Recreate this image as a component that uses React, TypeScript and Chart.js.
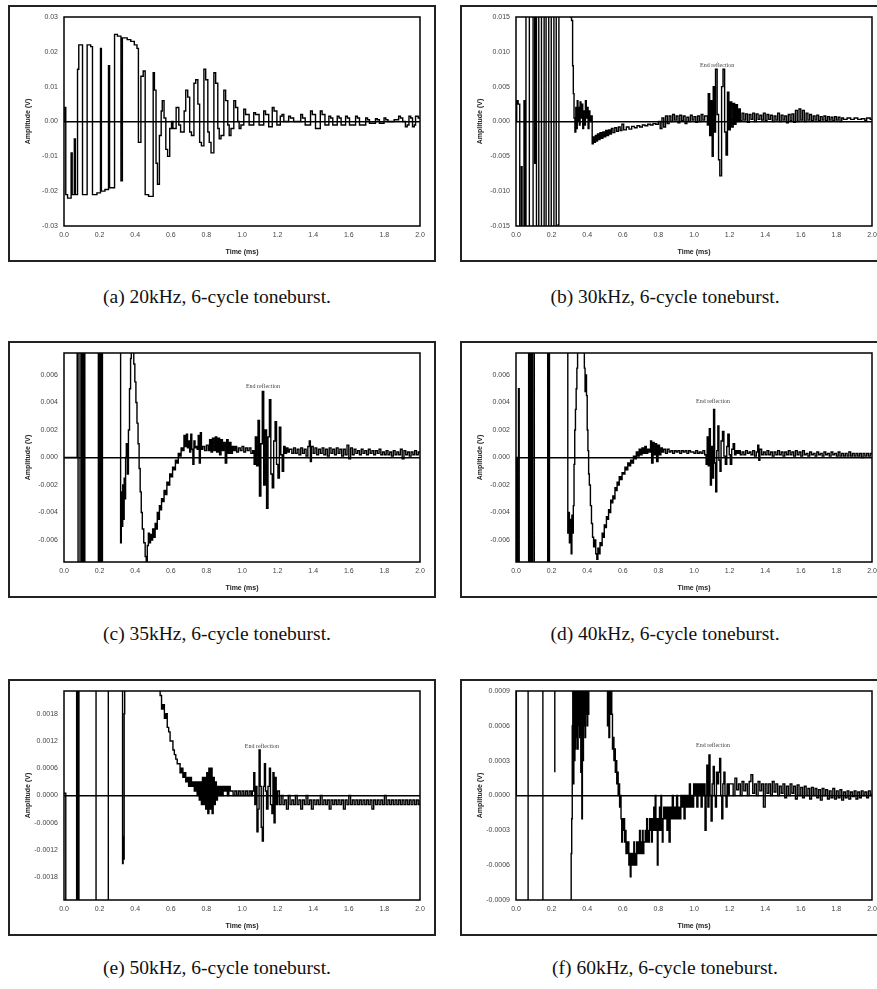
import React, { useEffect, useRef } from "react";
import { Chart, registerables } from "chart.js";

Chart.register(...registerables);

// ---------- tick labels ----------
const X_TICKS = [0, 0.2, 0.4, 0.6, 0.8, 1.0, 1.2, 1.4, 1.6, 1.8, 2.0];
const Y_TICKS_A = [-0.03, -0.02, -0.01, 0, 0.01, 0.02, 0.03];
const Y_TICKS_B = [-0.015, -0.01, -0.005, 0, 0.005, 0.01, 0.015];
const Y_TICKS_C = [-0.006, -0.004, -0.002, 0, 0.002, 0.004, 0.006];
const Y_TICKS_D = [-0.006, -0.004, -0.002, 0, 0.002, 0.004, 0.006];
const Y_TICKS_E = [-0.0018, -0.0012, -0.0006, 0, 0.0006, 0.0012, 0.0018];
const Y_TICKS_F = [-0.0009, -0.0006, -0.0003, 0, 0.0003, 0.0006, 0.0009];

const Y_RANGE_A = [-0.03, 0.03];
const Y_RANGE_B = [-0.015, 0.015];
const Y_RANGE_C = [-0.0076, 0.0076];
const Y_RANGE_D = [-0.0076, 0.0076];
const Y_RANGE_E = [-0.0023, 0.0023];
const Y_RANGE_F = [-0.0009, 0.0009];

const CAPTIONS = [
  "(a) 20kHz, 6-cycle toneburst.",
  "(b) 30kHz, 6-cycle toneburst.",
  "(c) 35kHz, 6-cycle toneburst.",
  "(d) 40kHz, 6-cycle toneburst.",
  "(e) 50kHz, 6-cycle toneburst.",
  "(f) 60kHz, 6-cycle toneburst.",
];
const NOTE_TEXT = "End reflection";
const NOTE_B = [1.13, 0.008];
const NOTE_C = [1.118, 0.00516];
const NOTE_D = [1.107, 0.00407];
const NOTE_E = [1.112, 0.00108];
const NOTE_F = [1.107, 0.00043];

// ---------- waveforms: [time (ms), amplitude (V)], sample-and-hold ----------
const WAVE_A = [
  [0.000, 0.0], [0.005, 0.004], [0.010, -0.021], [0.020, -0.022], [0.040, -0.009], [0.046, -0.021],
  [0.058, -0.005], [0.064, -0.021], [0.076, 0.015], [0.083, 0.022], [0.104, -0.021], [0.130, 0.022],
  [0.150, 0.0215], [0.160, -0.021], [0.185, -0.0205], [0.205, 0.021], [0.210, -0.020], [0.230, -0.0195],
  [0.250, 0.016], [0.256, -0.019], [0.284, 0.025], [0.300, 0.0245], [0.320, -0.017], [0.328, 0.024],
  [0.355, 0.0235], [0.375, 0.023], [0.395, 0.022], [0.410, 0.021], [0.418, -0.006], [0.432, 0.013],
  [0.445, 0.0145], [0.456, -0.021], [0.475, -0.0215], [0.501, 0.014], [0.508, 0.009], [0.517, -0.012],
  [0.525, -0.018], [0.536, -0.004], [0.546, 0.003], [0.552, 0.006], [0.562, 0.001], [0.572, -0.008],
  [0.582, -0.010], [0.594, -0.002], [0.604, 0.0], [0.612, -0.002], [0.630, 0.004], [0.645, -0.001],
  [0.655, -0.003], [0.675, 0.003], [0.684, 0.009], [0.695, 0.007], [0.706, -0.003], [0.716, -0.004],
  [0.730, 0.011], [0.740, 0.012], [0.752, 0.005], [0.762, -0.006], [0.772, -0.007], [0.786, 0.015],
  [0.796, 0.012], [0.808, -0.003], [0.816, -0.006], [0.826, -0.009], [0.842, 0.014], [0.852, 0.011],
  [0.864, -0.002], [0.872, -0.005], [0.882, -0.004], [0.898, 0.009], [0.908, 0.006], [0.920, -0.001],
  [0.928, -0.004], [0.938, -0.002], [0.954, 0.006], [0.964, 0.004], [0.976, 0.0], [0.984, -0.002],
  [0.994, -0.001], [1.010, 0.0035], [1.020, 0.002], [1.040, -0.001], [1.066, 0.0025], [1.076, 0.002],
  [1.096, -0.001], [1.122, 0.003], [1.132, 0.002], [1.150, -0.0015], [1.170, 0.004], [1.180, 0.003],
  [1.196, -0.001], [1.215, 0.0015], [1.225, 0.002], [1.235, 0.0], [1.262, 0.0015], [1.272, 0.001],
  [1.290, 0.0], [1.330, 0.002], [1.340, 0.001], [1.355, -0.001], [1.385, 0.003], [1.395, 0.002],
  [1.413, -0.002], [1.440, 0.003], [1.450, 0.002], [1.466, -0.001], [1.488, 0.0015], [1.498, 0.001],
  [1.510, -0.001], [1.535, 0.0015], [1.545, 0.001], [1.557, -0.001], [1.582, 0.0015], [1.592, 0.001],
  [1.604, -0.001], [1.638, 0.0015], [1.648, 0.001], [1.660, -0.001], [1.695, 0.001], [1.705, 0.0005],
  [1.716, -0.0005], [1.750, 0.0008], [1.760, 0.0005], [1.772, -0.0005], [1.798, 0.001], [1.808, 0.0005],
  [1.820, 0.0], [1.855, 0.0005], [1.880, 0.0015], [1.890, 0.001], [1.903, 0.0], [1.918, -0.0015],
  [1.928, -0.001], [1.938, 0.0015], [1.948, 0.001], [1.958, -0.0015], [1.968, -0.001], [1.975, 0.0015],
  [1.990, 0.001], [2.000, 0.001],
];

const WAVE_B = [
  [0.000, 0.0], [0.004, 0.003], [0.012, 0.0025], [0.021, -0.03], [0.030, -0.0065], [0.034, -0.03],
  [0.045, 0.003], [0.049, -0.03], [0.056, 0.03], [0.075, -0.03], [0.096, 0.03], [0.105, -0.006],
  [0.109, 0.03], [0.115, -0.03], [0.128, 0.03], [0.143, -0.03], [0.158, 0.03], [0.169, -0.03],
  [0.184, 0.03], [0.198, -0.03], [0.213, 0.03], [0.226, -0.03], [0.237, -0.0148], [0.241, 0.03],
  [0.290, 0.0155], [0.305, 0.015], [0.312, 0.0145], [0.318, 0.008], [0.322, 0.004], [0.326, 0.0005],
  [0.331, -0.0015], [0.336, 0.002], [0.340, -0.001], [0.344, 0.003], [0.348, 0.0], [0.352, 0.002],
  [0.356, -0.0005], [0.360, 0.0028], [0.365, 0.0005], [0.370, 0.0025], [0.375, -0.001], [0.380, 0.0015],
  [0.385, -0.0005], [0.390, 0.003], [0.395, 0.0005], [0.400, 0.002], [0.405, -0.001], [0.410, 0.0015],
  [0.415, 0.0], [0.420, 0.0008], [0.428, -0.0032], [0.434, -0.0022], [0.440, -0.003], [0.446, -0.002],
  [0.452, -0.0028], [0.458, -0.0018], [0.465, -0.0026], [0.472, -0.0016], [0.480, -0.0024], [0.488, -0.0015],
  [0.496, -0.0022], [0.504, -0.0013], [0.512, -0.002], [0.520, -0.0012], [0.528, -0.0018], [0.536, -0.001],
  [0.545, -0.0016], [0.555, -0.0009], [0.565, -0.0014], [0.575, -0.0008], [0.585, -0.0013], [0.595, -0.0004],
  [0.605, -0.0012], [0.620, -0.0008], [0.635, -0.0011], [0.650, -0.0007], [0.665, -0.0009], [0.680, -0.0006],
  [0.695, -0.0008], [0.710, -0.0005], [0.725, -0.0006], [0.740, -0.0004], [0.755, -0.0005], [0.770, -0.0003],
  [0.785, -0.0004], [0.800, 0.0], [0.810, -0.001], [0.820, 0.0005], [0.830, -0.0008], [0.840, 0.0008],
  [0.850, -0.0003], [0.860, 0.0008], [0.870, 0.0], [0.880, 0.001], [0.890, 0.0002], [0.900, 0.0008],
  [0.910, -0.0002], [0.920, 0.0009], [0.930, 0.0001], [0.940, 0.0008], [0.950, -0.0003], [0.960, 0.0006],
  [0.970, 0.0], [0.980, 0.0009], [0.990, 0.0002], [1.000, 0.0007], [1.010, -0.0001], [1.020, 0.0008],
  [1.030, 0.0], [1.040, 0.001], [1.050, 0.0002], [1.060, 0.0008], [1.075, -0.0005], [1.080, 0.004],
  [1.088, -0.002], [1.096, 0.003], [1.102, -0.005], [1.108, 0.005], [1.116, -0.0015], [1.121, 0.0075],
  [1.130, 0.001], [1.138, -0.0055], [1.145, -0.0078], [1.155, 0.005], [1.163, 0.0075], [1.172, -0.0015],
  [1.180, -0.0048], [1.188, 0.0042], [1.196, -0.0012], [1.204, 0.0028], [1.212, -0.0008], [1.220, 0.0026],
  [1.228, -0.0004], [1.236, 0.0024], [1.244, 0.0], [1.252, 0.0018], [1.260, 0.0001], [1.270, 0.0012],
  [1.280, 0.0002], [1.290, 0.0011], [1.300, -0.0001], [1.310, 0.001], [1.320, 0.0003], [1.330, 0.0012],
  [1.340, 0.0], [1.350, 0.0011], [1.360, 0.0003], [1.370, 0.0009], [1.380, 0.0002], [1.390, 0.0012],
  [1.400, 0.0001], [1.410, 0.001], [1.420, 0.0003], [1.430, 0.0009], [1.440, 0.0], [1.450, 0.0008],
  [1.460, 0.0002], [1.470, 0.0012], [1.480, 0.0], [1.490, 0.0009], [1.500, 0.0002], [1.510, 0.0008],
  [1.520, -0.0002], [1.530, 0.001], [1.540, 0.0001], [1.550, 0.0011], [1.560, -0.0001], [1.570, 0.0016],
  [1.580, 0.0], [1.590, 0.0018], [1.600, 0.0002], [1.610, 0.0016], [1.620, 0.0], [1.630, 0.0012],
  [1.640, 0.0002], [1.650, 0.001], [1.660, 0.0001], [1.670, 0.0008], [1.680, 0.0002], [1.690, 0.0009],
  [1.700, 0.0001], [1.710, 0.0007], [1.720, 0.0002], [1.730, 0.0008], [1.740, 0.0001], [1.750, 0.0007],
  [1.760, 0.0002], [1.770, 0.0006], [1.780, 0.0001], [1.790, 0.0007], [1.800, 0.0002], [1.810, 0.0006],
  [1.820, 0.0], [1.830, 0.0005], [1.840, 0.0003], [1.860, 0.0005], [1.880, 0.0003], [1.900, 0.0005],
  [1.920, 0.0003], [1.940, 0.0004], [1.960, 0.0001], [1.970, 0.0005], [1.990, 0.0003], [2.000, 0.0003],
];

const WAVE_C = [
  [0.000, 0.0], [0.074, 0.03], [0.079, -0.03], [0.090, 0.03], [0.099, -0.03], [0.103, 0.03],
  [0.107, -0.004], [0.109, -0.03], [0.113, 0.03], [0.117, -0.03], [0.193, 0.03], [0.199, -0.03],
  [0.205, 0.03], [0.211, -0.03], [0.216, 0.03], [0.318, -0.0062], [0.322, -0.0025], [0.326, -0.005],
  [0.330, -0.002], [0.334, -0.0045], [0.338, -0.0015], [0.342, -0.003], [0.346, 0.0], [0.350, 0.001],
  [0.356, -0.0012], [0.362, 0.002], [0.368, 0.005], [0.374, 0.0072], [0.378, 0.03], [0.392, 0.0068],
  [0.398, 0.0055], [0.404, 0.004], [0.410, 0.0025], [0.416, 0.001], [0.422, -0.0008], [0.428, -0.0025],
  [0.434, -0.004], [0.440, -0.0052], [0.448, -0.0062], [0.456, -0.0072], [0.462, -0.0078], [0.468, -0.0064],
  [0.474, -0.0055], [0.480, -0.0062], [0.486, -0.0056], [0.492, -0.006], [0.498, -0.0052], [0.505, -0.0058],
  [0.512, -0.0048], [0.518, -0.0052], [0.524, -0.004], [0.530, -0.0045], [0.536, -0.0035], [0.542, -0.0038],
  [0.548, -0.003], [0.555, -0.0032], [0.562, -0.0024], [0.570, -0.0027], [0.578, -0.0018], [0.586, -0.002],
  [0.594, -0.0012], [0.602, -0.0014], [0.610, -0.0007], [0.618, -0.0009], [0.626, -0.0002], [0.634, -0.0004],
  [0.642, 0.0003], [0.650, 0.0001], [0.658, 0.0007], [0.666, 0.0005], [0.674, 0.0016], [0.680, 0.0008],
  [0.688, 0.0017], [0.694, 0.0007], [0.700, 0.0012], [0.706, 0.0004], [0.712, 0.0017], [0.718, 0.0006],
  [0.724, -0.0005], [0.730, 0.0012], [0.736, 0.0007], [0.742, 0.0008], [0.748, 0.0006], [0.754, 0.0016],
  [0.760, -0.0004], [0.766, 0.0018], [0.772, 0.0006], [0.780, 0.0008], [0.790, 0.0005], [0.800, 0.0009],
  [0.810, 0.0005], [0.818, 0.0013], [0.826, 0.0004], [0.834, 0.0014], [0.842, 0.0005], [0.850, 0.0015],
  [0.858, 0.0004], [0.866, 0.0014], [0.874, 0.0002], [0.882, 0.0013], [0.890, 0.0005], [0.898, 0.0011],
  [0.906, -0.0004], [0.914, 0.0013], [0.922, 0.0003], [0.930, 0.0011], [0.938, 0.0003], [0.946, 0.0008],
  [0.954, 0.0005], [0.962, 0.0008], [0.970, 0.0004], [0.980, 0.0007], [0.990, 0.0005], [1.000, 0.0008],
  [1.010, 0.0004], [1.020, 0.0007], [1.030, 0.0005], [1.040, 0.0007], [1.050, 0.0003], [1.060, 0.0005],
  [1.068, -0.0005], [1.075, 0.0015], [1.082, -0.0006], [1.090, 0.0027], [1.098, -0.0028], [1.106, 0.001],
  [1.114, 0.0048], [1.122, -0.002], [1.130, 0.002], [1.138, -0.0037], [1.146, 0.0015], [1.154, 0.0042],
  [1.162, -0.0012], [1.170, -0.0022], [1.178, 0.0012], [1.186, 0.0026], [1.194, -0.0005], [1.202, -0.0015],
  [1.210, 0.0022], [1.218, 0.0002], [1.226, -0.001], [1.234, 0.0008], [1.242, 0.0003], [1.250, 0.0007],
  [1.258, 0.0004], [1.266, 0.0006], [1.280, 0.0003], [1.290, 0.0007], [1.300, 0.0003], [1.310, 0.0006],
  [1.320, 0.0002], [1.330, 0.0007], [1.340, 0.0003], [1.350, 0.0006], [1.360, 0.0001], [1.370, 0.0008],
  [1.378, 0.0012], [1.384, -0.0003], [1.390, 0.0008], [1.400, 0.0003], [1.410, 0.0007], [1.420, 0.0002],
  [1.430, 0.0006], [1.440, 0.0003], [1.450, 0.0007], [1.460, 0.0002], [1.470, 0.0006], [1.480, 0.0001],
  [1.490, 0.0007], [1.500, 0.0003], [1.510, 0.0006], [1.520, 0.0002], [1.530, 0.0007], [1.540, 0.0003],
  [1.550, 0.0006], [1.560, 0.0001], [1.570, 0.0006], [1.580, 0.0002], [1.590, 0.0009], [1.600, -0.0001],
  [1.610, 0.0007], [1.620, 0.0002], [1.630, 0.0006], [1.640, 0.0003], [1.650, 0.0005], [1.660, 0.0002],
  [1.670, 0.0006], [1.680, 0.0003], [1.690, 0.0005], [1.700, 0.0002], [1.710, 0.0006], [1.720, 0.0003],
  [1.730, 0.0005], [1.740, 0.0002], [1.750, 0.0005], [1.760, 0.0003], [1.770, 0.0006], [1.780, 0.0002],
  [1.790, 0.0004], [1.800, 0.0002], [1.810, 0.0005], [1.820, 0.0002], [1.830, 0.0004], [1.840, 0.0001],
  [1.850, 0.0005], [1.860, 0.0002], [1.870, 0.0004], [1.880, 0.0002], [1.890, 0.0006], [1.900, -0.0001],
  [1.910, 0.0005], [1.920, 0.0002], [1.930, 0.0004], [1.940, 0.0001], [1.950, 0.0004], [1.960, 0.0002],
  [1.970, 0.0005], [1.980, 0.0002], [1.990, 0.0004], [2.000, 0.0003],
];

const WAVE_D = [
  [0.000, 0.0], [0.002, -0.03], [0.010, 0.0], [0.014, 0.005], [0.018, -0.03], [0.071, 0.03],
  [0.076, -0.03], [0.082, 0.03], [0.088, -0.03], [0.094, 0.03], [0.103, -0.03], [0.178, 0.03],
  [0.183, -0.03], [0.188, 0.03], [0.291, -0.0055], [0.296, -0.004], [0.300, -0.0062], [0.305, -0.0045],
  [0.310, -0.007], [0.314, -0.0042], [0.318, -0.0055], [0.322, -0.0035], [0.326, -0.0005], [0.330, 0.002],
  [0.334, 0.0035], [0.338, 0.005], [0.342, 0.0065], [0.346, 0.03], [0.384, 0.0065], [0.388, 0.0048],
  [0.392, 0.006], [0.396, 0.0045], [0.400, 0.002], [0.404, 0.0005], [0.408, -0.0012], [0.412, -0.002],
  [0.418, -0.0035], [0.424, -0.0048], [0.430, -0.0058], [0.436, -0.0065], [0.442, -0.006], [0.448, -0.007],
  [0.454, -0.0074], [0.460, -0.0066], [0.466, -0.007], [0.472, -0.0062], [0.478, -0.0064], [0.484, -0.0055],
  [0.490, -0.0058], [0.496, -0.0049], [0.502, -0.0051], [0.508, -0.0043], [0.514, -0.0045], [0.520, -0.0038],
  [0.526, -0.004], [0.532, -0.0031], [0.538, -0.0033], [0.544, -0.0028], [0.550, -0.003], [0.556, -0.0022],
  [0.562, -0.0024], [0.568, -0.0018], [0.574, -0.002], [0.580, -0.0014], [0.588, -0.0016], [0.596, -0.0011],
  [0.604, -0.0012], [0.612, -0.0007], [0.620, -0.0009], [0.628, -0.0004], [0.636, -0.0006], [0.644, -0.0002],
  [0.652, -0.0004], [0.660, 0.0001], [0.668, -0.0001], [0.676, 0.0004], [0.684, 0.0001], [0.692, 0.0006],
  [0.700, 0.0002], [0.708, 0.0007], [0.716, 0.0003], [0.724, 0.0008], [0.732, 0.0003], [0.740, 0.0006],
  [0.748, 0.0004], [0.756, 0.0012], [0.762, -0.0004], [0.770, 0.0011], [0.776, 0.0002], [0.784, 0.001],
  [0.790, -0.0003], [0.798, 0.0009], [0.806, 0.0002], [0.814, 0.0007], [0.822, 0.0004], [0.830, 0.0006],
  [0.840, 0.0003], [0.850, 0.0006], [0.860, 0.0004], [0.870, 0.0005], [0.880, 0.0003], [0.890, 0.0005],
  [0.900, 0.0004], [0.910, 0.0005], [0.920, 0.0003], [0.930, 0.0005], [0.940, 0.0004], [0.950, 0.0005],
  [0.960, 0.0003], [0.970, 0.0005], [0.980, 0.0004], [0.990, 0.0004], [1.000, 0.0003], [1.010, 0.0005],
  [1.020, 0.0003], [1.030, 0.0004], [1.040, 0.0003], [1.050, 0.0005], [1.060, 0.0002], [1.068, -0.0005],
  [1.074, 0.0015], [1.080, -0.0006], [1.086, 0.0021], [1.092, -0.002], [1.098, 0.0008], [1.104, -0.0015],
  [1.110, 0.0035], [1.116, -0.0004], [1.122, -0.0025], [1.128, 0.0005], [1.134, 0.0023], [1.140, -0.0002],
  [1.146, -0.001], [1.152, 0.0012], [1.160, 0.0019], [1.168, 0.0001], [1.176, -0.0005], [1.184, 0.0008],
  [1.190, 0.0017], [1.198, 0.0002], [1.204, -0.0005], [1.212, 0.0006], [1.220, 0.001], [1.228, 0.0002],
  [1.236, 0.0005], [1.244, 0.0003], [1.252, 0.0005], [1.260, 0.0002], [1.270, 0.0004], [1.280, 0.0002],
  [1.290, 0.0005], [1.300, 0.0003], [1.310, 0.0004], [1.320, 0.0002], [1.330, 0.0005], [1.340, 0.0001],
  [1.350, 0.0004], [1.358, 0.0009], [1.364, -0.0002], [1.370, 0.0006], [1.380, 0.0002], [1.390, 0.0004],
  [1.400, 0.0002], [1.410, 0.0005], [1.420, 0.0002], [1.430, 0.0004], [1.440, 0.0001], [1.450, 0.0004],
  [1.460, 0.0002], [1.470, 0.0005], [1.480, 0.0002], [1.490, 0.0004], [1.500, 0.0001], [1.510, 0.0004],
  [1.520, 0.0002], [1.530, 0.0005], [1.540, 0.0002], [1.550, 0.0004], [1.560, 0.0001], [1.570, 0.0005],
  [1.580, 0.0002], [1.590, 0.0004], [1.600, 0.0001], [1.610, 0.0005], [1.620, 0.0002], [1.630, 0.0003],
  [1.640, 0.0001], [1.650, 0.0004], [1.660, 0.0002], [1.670, 0.0003], [1.680, 0.0001], [1.690, 0.0004],
  [1.700, 0.0002], [1.710, 0.0003], [1.720, 0.0001], [1.730, 0.0004], [1.740, 0.0002], [1.750, 0.0003],
  [1.760, 0.0001], [1.770, 0.0004], [1.780, 0.0002], [1.790, 0.0003], [1.800, 0.0001], [1.810, 0.0004],
  [1.820, 0.0001], [1.830, 0.0003], [1.840, 0.0001], [1.850, 0.0003], [1.860, 0.0001], [1.870, 0.0004],
  [1.880, 0.0001], [1.890, 0.0003], [1.900, 0.0001], [1.910, 0.0003], [1.920, 0.0001], [1.930, 0.0003],
  [1.940, 0.0], [1.950, 0.0003], [1.960, 0.0001], [1.970, 0.0003], [1.980, 0.0001], [1.990, 0.0003],
  [2.000, 0.0002],
];

const WAVE_E = [
  [0.000, 0.00005], [0.010, -0.01], [0.071, 0.01], [0.078, -0.01], [0.084, 0.01], [0.180, -0.01],
  [0.249, 0.01], [0.329, -0.0015], [0.332, -0.0009], [0.335, -0.0014], [0.338, 0.0018], [0.341, 0.01],
  [0.540, 0.0022], [0.548, 0.0019], [0.556, 0.002], [0.564, 0.0017], [0.572, 0.0018], [0.580, 0.0015],
  [0.588, 0.0014], [0.596, 0.0012], [0.604, 0.0012], [0.612, 0.001], [0.620, 0.0009], [0.628, 0.0008],
  [0.636, 0.0007], [0.644, 0.0007], [0.652, 0.0005], [0.660, 0.0006], [0.668, 0.0004], [0.676, 0.0005],
  [0.684, 0.0003], [0.692, 0.0004], [0.700, 0.0002], [0.708, 0.0004], [0.716, 0.0002], [0.724, 0.0003],
  [0.732, 0.0001], [0.740, 0.0003], [0.748, 0.0], [0.754, 0.0003], [0.760, -0.0001], [0.766, 0.0003],
  [0.772, -0.0002], [0.778, 0.0004], [0.784, -0.0002], [0.790, 0.0004], [0.796, -0.0003], [0.802, 0.0005],
  [0.808, -0.0004], [0.814, 0.0006], [0.820, -0.0003], [0.826, 0.0006], [0.832, -0.0004], [0.838, 0.0004],
  [0.844, -0.0002], [0.850, 0.0003], [0.856, -0.0001], [0.862, 0.0002], [0.870, 0.0], [0.878, 0.0002],
  [0.886, 0.0], [0.894, 0.0002], [0.902, 0.0001], [0.910, 0.0002], [0.918, 0.0], [0.926, 0.0002],
  [0.934, 0.0001], [0.942, 0.0001], [0.950, 0.0], [0.960, 0.0001], [0.970, 0.0], [0.980, 0.0001],
  [0.990, 0.0], [1.000, 0.0001], [1.010, 0.0], [1.020, 0.0001], [1.030, 0.0], [1.040, 0.0001],
  [1.050, 0.0], [1.058, 0.0001], [1.066, 0.0005], [1.072, -0.0002], [1.078, 0.0002], [1.084, -0.0008],
  [1.090, -0.0003], [1.096, 0.001], [1.102, 0.0002], [1.108, -0.0007], [1.114, -0.001], [1.120, 0.0002],
  [1.126, 0.0007], [1.132, 0.0001], [1.138, -0.0003], [1.146, 0.0002], [1.154, 0.0006], [1.160, -0.0002],
  [1.168, -0.0004], [1.174, 0.0005], [1.180, -0.0006], [1.186, 0.0004], [1.192, -0.0002], [1.200, 0.0001],
  [1.210, -0.0002], [1.220, 0.0], [1.230, -0.0002], [1.240, -0.0001], [1.250, -0.0003], [1.260, 0.0],
  [1.270, -0.0002], [1.280, -0.0001], [1.290, -0.0002], [1.300, 0.0], [1.310, -0.0002], [1.320, -0.0001],
  [1.330, -0.0003], [1.340, -0.0001], [1.350, -0.0002], [1.360, 0.0], [1.370, -0.0002], [1.380, -0.0001],
  [1.390, -0.0003], [1.400, -0.0001], [1.410, -0.0002], [1.420, -0.0001], [1.430, -0.0002], [1.440, 0.0],
  [1.450, -0.0002], [1.460, -0.0001], [1.470, -0.0002], [1.480, -0.0001], [1.490, -0.0003], [1.500, -0.0001],
  [1.510, -0.0002], [1.520, -0.0001], [1.530, -0.0002], [1.540, -0.0001], [1.550, -0.0002], [1.560, -0.0001],
  [1.570, -0.0003], [1.580, -0.0001], [1.590, -0.0002], [1.600, 0.0], [1.610, -0.0002], [1.620, -0.0001],
  [1.630, -0.0002], [1.640, -0.0001], [1.650, -0.0002], [1.660, -0.0001], [1.670, -0.0002], [1.680, -0.0001],
  [1.690, -0.0002], [1.700, -0.0001], [1.710, -0.0002], [1.720, -0.0001], [1.730, -0.0003], [1.740, -0.0001],
  [1.750, -0.0002], [1.760, -0.0001], [1.770, -0.0002], [1.780, -0.0001], [1.790, -0.0002], [1.800, 0.0],
  [1.810, -0.0002], [1.820, -0.0001], [1.830, -0.0002], [1.840, -0.0001], [1.850, -0.0002], [1.860, -0.0001],
  [1.870, -0.0002], [1.880, -0.0001], [1.890, -0.0002], [1.900, -0.0001], [1.910, -0.0002], [1.920, -0.0001],
  [1.930, -0.0002], [1.940, -0.0001], [1.950, -0.0002], [1.960, -0.0001], [1.970, -0.0002], [1.980, -0.0001],
  [1.990, -0.0002], [2.000, -0.0001],
];

const WAVE_F = [
  [0.000, 0.0], [0.002, 0.003], [0.068, -0.003], [0.151, 0.003], [0.218, 0.0002], [0.222, null],
  [0.305, -0.003], [0.310, -0.0005], [0.313, -0.0002], [0.316, 0.0006], [0.319, 0.003], [0.322, 0.0001],
  [0.325, 0.003], [0.328, 0.0003], [0.331, 0.003], [0.334, 0.0004], [0.337, 0.003], [0.340, 0.0005],
  [0.343, 0.003], [0.346, 0.0004], [0.349, 0.003], [0.352, 0.0006], [0.355, 0.003], [0.358, 0.0005],
  [0.361, 0.003], [0.364, 0.0002], [0.367, 0.003], [0.370, -0.0002], [0.373, 0.003], [0.376, 0.0003],
  [0.379, 0.003], [0.382, 0.0006], [0.385, 0.003], [0.388, 0.0005], [0.391, 0.003], [0.394, 0.0007],
  [0.397, 0.003], [0.400, 0.0006], [0.403, 0.003], [0.406, 0.0007], [0.409, 0.003], [0.514, 0.0006],
  [0.518, 0.003], [0.522, 0.0005], [0.526, 0.003], [0.530, 0.0007], [0.534, 0.0009], [0.538, 0.0007],
  [0.542, 0.0004], [0.546, 0.0005], [0.550, 0.0003], [0.554, 0.0004], [0.558, 0.0002], [0.562, 0.0003],
  [0.566, 0.0001], [0.570, 0.0002], [0.574, 0.0], [0.578, 0.0001], [0.582, -0.0001], [0.586, 0.0],
  [0.590, -0.0002], [0.594, -0.0004], [0.598, -0.0002], [0.602, -0.0003], [0.606, -0.0002], [0.610, -0.0004],
  [0.614, -0.0003], [0.618, -0.0005], [0.622, -0.0004], [0.626, -0.0005], [0.630, -0.0004], [0.634, -0.0006],
  [0.638, -0.0005], [0.642, -0.0007], [0.646, -0.0005], [0.650, -0.0006], [0.654, -0.0005], [0.658, -0.0006],
  [0.662, -0.0004], [0.666, -0.0006], [0.670, -0.0005], [0.674, -0.0006], [0.678, -0.0004], [0.682, -0.0005],
  [0.686, -0.0004], [0.690, -0.0005], [0.694, -0.0003], [0.698, -0.0005], [0.702, -0.0004], [0.706, -0.0005],
  [0.710, -0.0003], [0.714, -0.0005], [0.718, -0.0004], [0.722, -0.0004], [0.726, -0.0003], [0.730, -0.0004],
  [0.734, -0.0002], [0.738, -0.0004], [0.742, -0.0003], [0.746, -0.0004], [0.750, -0.0002], [0.754, -0.0003],
  [0.758, -0.0002], [0.762, -0.0004], [0.766, -0.0002], [0.770, -0.0003], [0.774, -0.0001], [0.778, -0.0003],
  [0.782, 0.0], [0.786, -0.0002], [0.790, -0.0003], [0.794, -0.0006], [0.798, -0.0002], [0.802, -0.0003],
  [0.806, -0.0001], [0.810, -0.0003], [0.814, 0.0], [0.818, -0.0002], [0.822, -0.0004], [0.826, -0.0002],
  [0.830, -0.0001], [0.836, -0.0002], [0.842, -0.0001], [0.848, -0.0003], [0.854, -0.0001], [0.860, -0.0004],
  [0.866, -0.0001], [0.872, -0.0002], [0.878, 0.0], [0.884, -0.0002], [0.890, -0.0001], [0.896, -0.0002],
  [0.902, 0.0], [0.908, -0.0002], [0.914, -0.0001], [0.920, -0.0002], [0.926, 0.0], [0.932, -0.0001],
  [0.938, 0.0], [0.944, -0.0002], [0.950, 0.0], [0.956, -0.0001], [0.962, 0.0], [0.968, -0.0001],
  [0.974, 0.0001], [0.980, -0.0001], [0.986, 0.0], [0.992, -0.0001], [0.998, 0.0001], [1.004, 0.0],
  [1.010, 0.0001], [1.016, -0.0001], [1.022, 0.0001], [1.028, 0.0], [1.034, 0.0001], [1.040, -0.0001],
  [1.046, 0.0001], [1.052, 0.0], [1.058, 0.0001], [1.062, -0.0003], [1.068, 0.0], [1.072, 0.00026],
  [1.078, -0.0001], [1.084, 0.00035], [1.090, 0.0], [1.096, -0.00022], [1.102, 0.0001], [1.108, 0.00025],
  [1.114, 0.0], [1.120, -0.0001], [1.126, 0.0002], [1.132, 0.0001], [1.138, 0.0002], [1.144, 0.00032],
  [1.150, 0.0], [1.156, -0.0002], [1.162, 0.0001], [1.168, 0.0002], [1.174, 0.0], [1.180, -0.0001],
  [1.186, 0.0001], [1.192, 0.0], [1.198, 0.0001], [1.210, 0.0001], [1.220, 0.0], [1.230, 0.00015],
  [1.240, 0.00005], [1.250, 0.0001], [1.260, 0.0], [1.270, 0.00012], [1.280, 0.00004], [1.290, 0.0001],
  [1.300, 0.0], [1.310, 0.00012], [1.320, 0.00018], [1.330, 0.00002], [1.340, 0.0001], [1.350, 0.0],
  [1.360, 0.00012], [1.370, 0.00004], [1.380, 0.0001], [1.390, -0.0001], [1.400, 0.0001], [1.410, 0.00002],
  [1.420, 0.0001], [1.430, 0.0], [1.440, 0.00012], [1.450, 0.00003], [1.460, 0.0001], [1.470, 0.0],
  [1.480, 0.00008], [1.490, 0.00002], [1.500, 0.0001], [1.510, -0.00002], [1.520, 0.00008], [1.530, 0.0],
  [1.540, 0.0001], [1.550, 0.00002], [1.560, 0.00008], [1.570, -0.00003], [1.580, 0.00009], [1.590, 0.0],
  [1.600, 0.00007], [1.610, -0.00002], [1.620, 0.00008], [1.630, 0.0], [1.640, 0.00006], [1.650, -0.00003],
  [1.660, 0.00007], [1.670, 0.0], [1.680, 0.00006], [1.690, -0.00002], [1.700, 0.00005], [1.710, -0.00004],
  [1.720, 0.00006], [1.730, 0.0], [1.740, 0.00005], [1.750, -0.00003], [1.760, 0.00004], [1.770, -0.00002],
  [1.780, 0.00006], [1.790, -0.00003], [1.800, 0.00004], [1.810, -0.00002], [1.820, 0.00005], [1.830, -0.00004],
  [1.840, 0.00003], [1.850, -0.00002], [1.860, 0.00004], [1.870, -0.00003], [1.880, 0.00003], [1.890, -0.00001],
  [1.900, 0.00004], [1.910, -0.00003], [1.920, 0.00003], [1.930, -0.00002], [1.940, 0.00004], [1.950, 0.0],
  [1.960, 0.00003], [1.970, -0.00002], [1.980, 0.00004], [1.990, 0.0], [2.000, 0.00002],
];

// ---------- panel assembly ----------
const PANELS = [
  { wave: WAVE_A, range: Y_RANGE_A, ticks: Y_TICKS_A, digits: 2, note: null, caption: CAPTIONS[0] },
  { wave: WAVE_B, range: Y_RANGE_B, ticks: Y_TICKS_B, digits: 3, note: NOTE_B, caption: CAPTIONS[1] },
  { wave: WAVE_C, range: Y_RANGE_C, ticks: Y_TICKS_C, digits: 3, note: NOTE_C, caption: CAPTIONS[2] },
  { wave: WAVE_D, range: Y_RANGE_D, ticks: Y_TICKS_D, digits: 3, note: NOTE_D, caption: CAPTIONS[3] },
  { wave: WAVE_E, range: Y_RANGE_E, ticks: Y_TICKS_E, digits: 4, note: NOTE_E, caption: CAPTIONS[4] },
  { wave: WAVE_F, range: Y_RANGE_F, ticks: Y_TICKS_F, digits: 4, note: NOTE_F, caption: CAPTIONS[5] },
];

const BOX = [
  { left: 8, top: 5 },
  { left: 460, top: 5 },
  { left: 8, top: 341 },
  { left: 460, top: 341 },
  { left: 8, top: 679 },
  { left: 460, top: 679 },
];
const CAP_POS = [
  { cx: 217, cy: 297 },
  { cx: 665, cy: 297 },
  { cx: 217, cy: 634 },
  { cx: 665, cy: 634 },
  { cx: 217, cy: 968 },
  { cx: 665, cy: 968 },
];

const CW = 428;
const CH = 257;
const SANS = "'Liberation Sans', Arial, sans-serif";
const SERIF = "'Liberation Serif', 'Times New Roman', serif";

const framePlugin = {
  id: "frame",
  beforeDraw(chart: any) {
    const { ctx, width, height } = chart;
    ctx.save();
    ctx.fillStyle = "#fff";
    ctx.fillRect(0, 0, width, height);
    ctx.strokeStyle = "#222";
    ctx.lineWidth = 2;
    ctx.strokeRect(1, 1, width - 2, height - 2);
    ctx.restore();
  },
  afterDraw(chart: any, _args: any, opts: any) {
    const { ctx, chartArea: a } = chart;
    ctx.save();
    ctx.strokeStyle = "#000";
    ctx.lineWidth = 1.5;
    ctx.strokeRect(a.left, a.top, a.right - a.left, a.bottom - a.top);
    if (opts && opts.note) {
      const x = chart.scales.x.getPixelForValue(opts.note[0]);
      const y = chart.scales.y.getPixelForValue(opts.note[1]);
      ctx.font = `6px ${SERIF}`;
      ctx.fillStyle = "#444";
      ctx.textAlign = "center";
      ctx.textBaseline = "middle";
      ctx.fillText(NOTE_TEXT, x, y);
    }
    ctx.restore();
  },
};

function Panel({ idx }: { idx: number }) {
  const ref = useRef<HTMLCanvasElement | null>(null);
  const p = PANELS[idx];
  const box = BOX[idx];
  useEffect(() => {
    if (!ref.current) return;
    const chart = new Chart(ref.current, {
      type: "line",
      data: {
        datasets: [
          {
            data: p.wave.map(([x, y]) => ({ x, y })),
            borderColor: "#000",
            borderWidth: 1.4,
            stepped: true,
            pointRadius: 0,
            fill: false,
            spanGaps: false,
          },
        ],
      },
      options: {
        responsive: false,
        animation: false,
        devicePixelRatio: 1,
        layout: { padding: { left: 0, top: 12, right: 16, bottom: 6 } },
        plugins: {
          legend: { display: false },
          tooltip: { enabled: false },
          frame: { note: p.note },
        } as any,
        scales: {
          x: {
            type: "linear",
            min: 0,
            max: 2,
            afterBuildTicks: (s: any) => {
              s.ticks = X_TICKS.map((v) => ({ value: v }));
            },
            afterFit: (s: any) => {
              s.height = 30;
            },
            grid: { display: false, drawTicks: false },
            border: { display: false },
            ticks: {
              padding: 5,
              autoSkip: false,
              maxRotation: 0,
              color: "#444",
              font: { family: SANS, size: 7 },
              callback: (v: any) => Number(v).toFixed(1),
            },
            title: {
              display: true,
              text: "Time (ms)",
              color: "#222",
              font: { family: SANS, size: 7, weight: "bold" },
              padding: 0,
            },
          },
          y: {
            type: "linear",
            min: p.range[0],
            max: p.range[1],
            afterBuildTicks: (s: any) => {
              s.ticks = p.ticks.map((v) => ({ value: v }));
            },
            afterFit: (s: any) => {
              s.width = 56;
            },
            grid: {
              drawTicks: false,
              lineWidth: 1.5,
              color: (c: any) => (c.tick && c.tick.value === 0 ? "#000" : "rgba(0,0,0,0)"),
            },
            border: { display: false },
            ticks: {
              padding: 6,
              color: "#444",
              font: { family: SANS, size: 7 },
              callback: (v: any) => Number(v).toFixed(p.digits),
            },
            title: {
              display: true,
              text: "Amplitude (V)",
              color: "#222",
              font: { family: SANS, size: 7, weight: "bold" },
              padding: { top: 16, bottom: 0 },
            },
          },
        },
      } as any,
      plugins: [framePlugin as any],
    });
    return () => chart.destroy();
  }, []);
  return (
    <canvas
      ref={ref}
      width={CW}
      height={CH}
      style={{ position: "absolute", left: box.left, top: box.top, width: CW, height: CH }}
    />
  );
}

export default function App() {
  return (
    <div
      style={{
        position: "fixed",
        left: 0,
        top: 0,
        width: 877,
        height: 989,
        overflow: "hidden",
        background: "#fff",
      }}
    >
      {PANELS.map((_, i) => (
        <Panel key={i} idx={i} />
      ))}
      {PANELS.map((p, i) => (
        <div
          key={"c" + i}
          style={{
            position: "absolute",
            left: CAP_POS[i].cx - 200,
            top: CAP_POS[i].cy - 11,
            width: 400,
            height: 22,
            lineHeight: "22px",
            textAlign: "center",
            fontFamily: SERIF,
            fontSize: 19.5,
            color: "#111",
            whiteSpace: "nowrap",
          }}
        >
          {p.caption}
        </div>
      ))}
    </div>
  );
}
